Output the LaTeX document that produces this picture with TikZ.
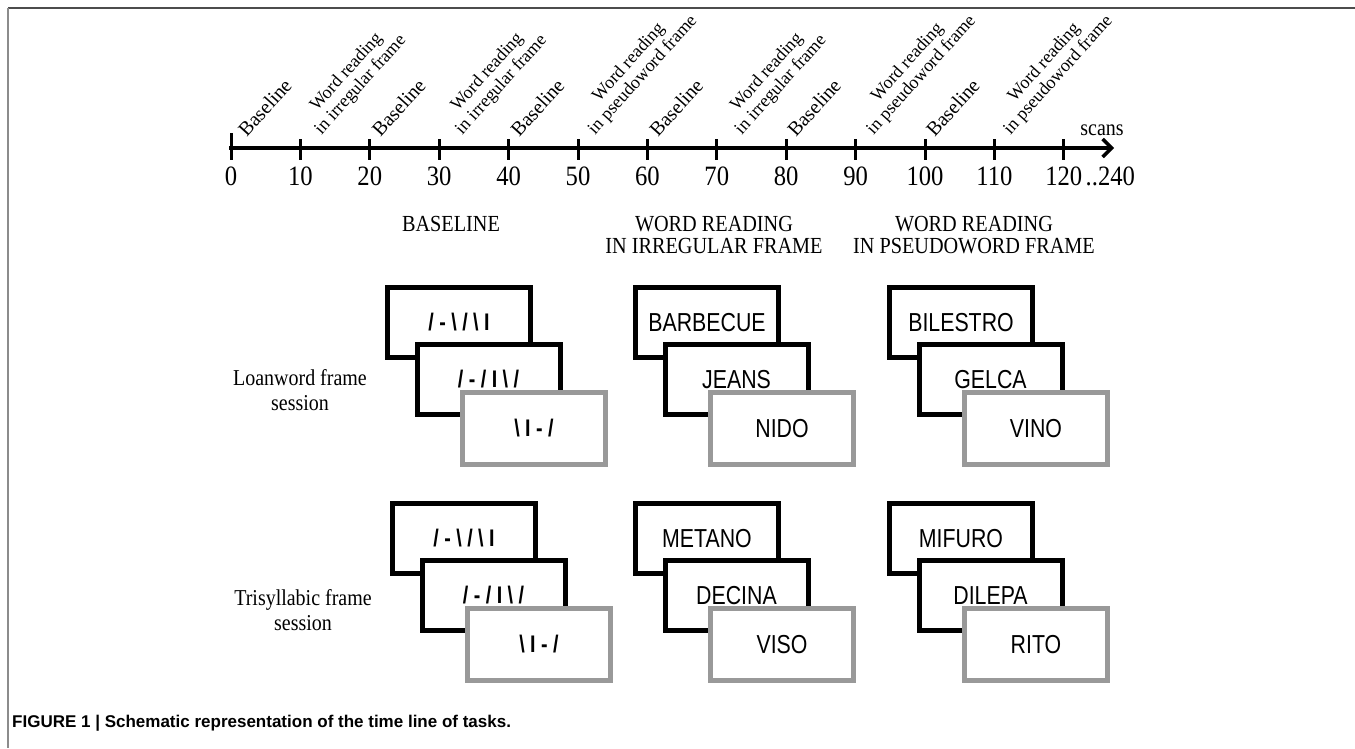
\documentclass[tikz,border=0pt]{standalone}
\usepackage{fontspec}
\setmainfont[FakeStretch=0.88]{Liberation Serif}
\newfontfamily\phasefont{Liberation Serif}
\newfontfamily\cardfont[FakeStretch=0.82]{Liberation Sans}
\newfontfamily\captionfont{Liberation Sans}
\usetikzlibrary{arrows.meta}
\newcommand\bsl{\textbackslash}

\begin{document}
\begin{tikzpicture}[x=1pt,y=-1pt,
  tick/.style={line width=3pt},
  phase/.style={rotate=48,anchor=south west,inner sep=0pt,align=center,font=\phasefont\fontsize{18}{19}\selectfont},
  rest/.style={phase,font=\phasefont\fontsize{20}{20}\selectfont},
  num/.style={anchor=base,inner sep=0pt,font=\fontsize{28}{30}\selectfont},
  cond/.style={align=center,inner sep=0pt,font=\fontsize{23}{22}\selectfont},
  sess/.style={align=center,inner sep=0pt,font=\fontsize{22.7}{25}\selectfont},
  card/.style={draw=black,line width=5pt,fill=white,minimum width=143pt,minimum height=70pt,inner sep=0pt,font=\cardfont\fontsize{26}{28}\selectfont},
  gray card/.style={card,draw=black!40,minimum height=72pt},
  sym/.style={font=\cardfont\bfseries\fontsize{24}{26}\selectfont}]

 \useasboundingbox (0,0) rectangle (1355,748);
 \draw[black!70,line width=2pt] (8,8) -- (1355,8);
 \draw[black!45,line width=2pt] (8,8) -- (8,748);

 % time line
 \coordinate (start) at (229,148);
 \coordinate (stop) at (1114,148);
 \draw[line width=3.5pt,-{Straight Barb[length=9pt,width=18pt,line width=3.5pt]}] (start) -- (stop);
 \draw[tick] (231,133) -- (231,160);
 \foreach \i in {1,...,12}
   \draw[tick] ({231+69.4*\i},139) -- ++(0,21);
 \foreach \i [evaluate=\i as \v using int(10*\i)] in {0,...,12}
   \node[num] (n\i) at ({231+69.4*\i},185) {\v};
 \node[num,anchor=base west] (n240) at ([xshift=3pt]n12.base east) {..240};
 \node[font=\fontsize{22.7}{24}\selectfont] (scans) at (1102,130) {scans};

 \foreach \i/\txt/\dx/\st in {0/Baseline/16/rest, 1/{Word reading\\in irregular frame}/24/phase,
     2/Baseline/11/rest, 3/{Word reading\\in irregular frame}/26/phase, 4/Baseline/11/rest,
     5/{Word reading\\in pseudoword frame}/20/phase, 6/Baseline/11/rest,
     7/{Word reading\\in irregular frame}/28/phase, 8/Baseline/10/rest,
     9/{Word reading\\in pseudoword frame}/21/phase, 10/Baseline/10/rest,
     11/{Word reading\\in pseudoword frame}/19/phase}
   \node[\st] (p\i) at ({231+69.4*\i+\dx},138) {\txt};

 % conditions
 \node[cond] (base) at (451,224) {BASELINE};
 \node[cond] (irr) at (714,235) {WORD READING\\IN IRREGULAR FRAME};
 \node[cond] (pseudo) at (974,235) {WORD READING\\IN PSEUDOWORD FRAME};

 \node[sess] (loan) at (300,390) {Loanword frame\\session};
 \node[sess] (tri) at (303,610) {Trisyllabic frame\\session};

 % loanword session
 \node[card,sym] (la1) at (459,322.5) {/ - \bsl{} / \bsl{} I};
 \node[card,sym] (la2) at (488.5,379.5) {/ - / I \bsl{} /};
 \node[gray card,sym] (la3) at (534,428.5) {\bsl{} I - /};
 \node[card] (lb1) at (707,322.5) {BARBECUE};
 \node[card] (lb2) at (736.5,379.5) {JEANS};
 \node[gray card] (lb3) at (782,428.5) {NIDO};
 \node[card] (lc1) at (961,322.5) {BILESTRO};
 \node[card] (lc2) at (990.5,379.5) {GELCA};
 \node[gray card] (lc3) at (1036,428.5) {VINO};

 % trisyllabic session
 \node[card,sym] (ta1) at (464,538.5) {/ - \bsl{} / \bsl{} I};
 \node[card,sym] (ta2) at (493.5,595.5) {/ - / I \bsl{} /};
 \node[gray card,sym] (ta3) at (539,644.5) {\bsl{} I - /};
 \node[card] (tb1) at (707,538.5) {METANO};
 \node[card] (tb2) at (736.5,595.5) {DECINA};
 \node[gray card] (tb3) at (782,644.5) {VISO};
 \node[card] (tc1) at (961,538.5) {MIFURO};
 \node[card] (tc2) at (990.5,595.5) {DILEPA};
 \node[gray card] (tc3) at (1036,644.5) {RITO};

 \node[anchor=base west,inner sep=0pt,font=\captionfont\bfseries\fontsize{17}{19}\selectfont] (cap) at (12,727)
   {FIGURE 1 | Schematic representation of the time line of tasks.};
\end{tikzpicture}
\end{document}
